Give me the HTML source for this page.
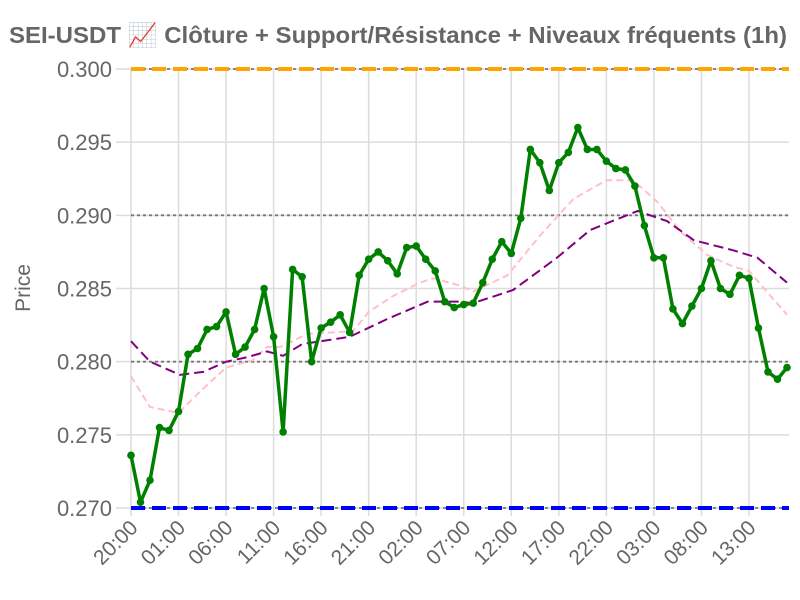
<!DOCTYPE html>
<html><head><meta charset="utf-8"><style>
body{margin:0;background:#fff;}
svg{display:block;font-family:"Liberation Sans",sans-serif;}
</style></head><body>
<svg id="chart" width="800" height="600">
<text x="398" y="43" text-anchor="middle" font-size="23.5" font-weight="bold" fill="#666" textLength="778" lengthAdjust="spacingAndGlyphs">SEI-USDT 📈 Clôture + Support/Résistance + Niveaux fréquents (1h)</text>
<text transform="translate(30,288) rotate(-90)" text-anchor="middle" font-size="21" fill="#666">Price</text>
<g id="grid"></g><g id="levels"></g><g id="series"></g><g id="axes"></g>
</svg>
<script>
const closes=[0.2736,0.2704,0.2719,0.2755,0.2753,0.2766,0.2805,0.2809,0.2822,0.2824,0.2834,0.2805,0.2810,0.2822,0.2850,0.2817,0.2752,0.2863,0.2858,0.2800,0.2823,0.2827,0.2832,0.2820,0.2859,0.2870,0.2875,0.2869,0.2860,0.2878,0.2879,0.2870,0.2862,0.2841,0.2837,0.2839,0.2840,0.2854,0.2870,0.2882,0.2874,0.2898,0.2945,0.2936,0.2917,0.2936,0.2943,0.2960,0.2945,0.2945,0.2937,0.2932,0.2931,0.2920,0.2893,0.2871,0.2871,0.2836,0.2826,0.2838,0.2850,0.2869,0.2850,0.2846,0.2859,0.2857,0.2823,0.2793,0.2788,0.2796];
const maFastIdx=[0,2,5,7.5,10,12.8,14.3,15.7,17,18.5,21.3,23.4,25,27.6,30.4,31.8,34.6,36,39.6,43,46.5,50,52.8,55.4,57.8,60.6,63.3,65,69];
const maFast=[0.2790,0.2769,0.2765,0.2781,0.2796,0.2801,0.2810,0.2810,0.2814,0.2819,0.2820,0.2821,0.2834,0.2845,0.2854,0.2857,0.2852,0.2848,0.2859,0.2886,0.2911,0.2924,0.2924,0.2909,0.2889,0.2873,0.2865,0.2862,0.2832];
const maSlowIdx=[0,2,5.15,7.6,10,12.2,14.3,16,18,23,26.9,31.2,34.6,36,40.2,44.8,48.3,53.3,56.4,59.2,63.4,65.9,69];
const maSlow=[0.2814,0.2800,0.2791,0.2793,0.2800,0.2803,0.2807,0.2804,0.2812,0.2817,0.2829,0.2841,0.2841,0.2840,0.2849,0.2871,0.2890,0.2903,0.2896,0.2883,0.2876,0.2871,0.2854];
const yTicks=[0.270,0.275,0.280,0.285,0.290,0.295,0.300];
const xTickIdx=[0,5,10,15,20,25,30,35,40,45,50,55,60,65];
const xTickLabels=["20:00","01:00","06:00","11:00","16:00","21:00","02:00","07:00","12:00","17:00","22:00","03:00","08:00","13:00"];
const resistance=0.300, support=0.270, freqLevels=[0.290,0.280];

const NS="http://www.w3.org/2000/svg";
const X0=131,X1=787,Y0=508,Y1=69,YMIN=0.270,YMAX=0.300,N=closes.length-1;
const sx=i=>X0+(X1-X0)*i/N;
const sy=v=>Y0-(Y0-Y1)*(v-YMIN)/(YMAX-YMIN);
function mk(tag,attrs,parent){const e=document.createElementNS(NS,tag);for(const k in attrs)e.setAttribute(k,attrs[k]);document.getElementById(parent).appendChild(e);return e;}
yTicks.forEach((t,i)=>{
 const l=mk('line',{x1:116,x2:789,y1:sy(t),y2:sy(t),stroke:'#dcdcdc','stroke-width':1.5},'grid');
 
 
 const tx=mk('text',{x:112,y:sy(t)+8,'text-anchor':'end','font-size':22,fill:'#666'},'axes');
 tx.textContent=t.toFixed(3);
 
 
});
xTickIdx.forEach((ix,i)=>{
 const x=sx(ix);
 const l=mk('line',{x1:x,x2:x,y1:Y1,y2:Y0+8,stroke:'#dcdcdc','stroke-width':1.5},'grid');
 
 
 const tx=mk('text',{x:x+8,y:Y0+21,'text-anchor':'end','font-size':21,fill:'#666',transform:`rotate(-45 ${x+8} ${Y0+21})`},'axes');
 tx.textContent=xTickLabels[i];
 
 
});
[resistance,support].concat(freqLevels).forEach(v=>{
 const l=mk('line',{x1:X0,x2:789,y1:sy(v),y2:sy(v),stroke:'#777','stroke-width':1.8,'stroke-dasharray':'3,3'},'levels');
 
 
});
const r=mk('line',{x1:X0,x2:789,y1:sy(resistance),y2:sy(resistance),stroke:'orange','stroke-width':4,'stroke-dasharray':'14,7'},'levels');


const s=mk('line',{x1:X0,x2:789,y1:sy(support),y2:sy(support),stroke:'blue','stroke-width':4,'stroke-dasharray':'14,7'},'levels');


const pf=mk('polyline',{points:maFastIdx.map((ix,i)=>sx(ix)+','+sy(maFast[i])).join(' '),fill:'none',stroke:'pink','stroke-width':2,'stroke-dasharray':'7,4'},'series');


const ps=mk('polyline',{points:maSlowIdx.map((ix,i)=>sx(ix)+','+sy(maSlow[i])).join(' '),fill:'none',stroke:'purple','stroke-width':2,'stroke-dasharray':'10,5'},'series');


const pc=mk('polyline',{points:closes.map((v,i)=>sx(i)+','+sy(v)).join(' '),fill:'none',stroke:'green','stroke-width':3.5,'stroke-linejoin':'round'},'series');


closes.forEach((v,i)=>{
 const c=mk('circle',{cx:sx(i),cy:sy(v),r:3.8,fill:'green'},'series');
 
 
});
</script>
</body></html>
